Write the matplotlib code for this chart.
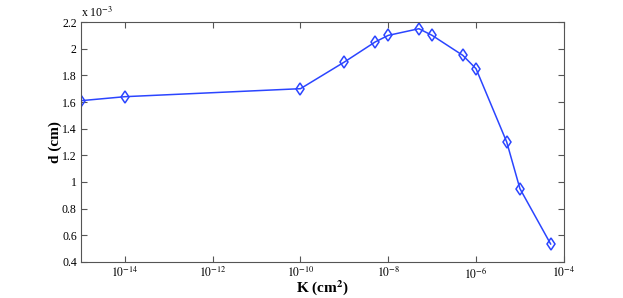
import math

import matplotlib
matplotlib.use("Agg")
import matplotlib.pyplot as plt
from matplotlib.ticker import FixedLocator, NullLocator, FuncFormatter

plt.rcParams["font.family"] = ["Liberation Serif", "DejaVu Serif"]
plt.rcParams["mathtext.fontset"] = "stix"

# permeability K (cm^2) and thickness d (x 1e-3 cm)
K = [1e-15, 1e-14, 1e-10, 1e-9, 5e-9, 1e-8, 5e-8, 1e-7, 5e-7, 1e-6, 5e-6, 1e-5, 5e-5]
d = [1.61, 1.64, 1.70, 1.90, 2.05, 2.10, 2.15, 2.10, 1.95, 1.85, 1.30, 0.95, 0.535]
x_ticks = [1e-14, 1e-12, 1e-10, 1e-8, 1e-6, 1e-4]
y_ticks = [0.4, 0.6, 0.8, 1.0, 1.2, 1.4, 1.6, 1.8, 2.0, 2.2]

fig = plt.figure(figsize=(6.23, 2.98), dpi=100)
ax = fig.add_axes([0.130, 0.121, 0.775, 0.805])

ax.plot(K, d, color="#2b45ff", lw=1.1, marker="d", mfc="none", mec="#2b45ff",
        ms=6, mew=1.1)

ax.set_xscale("log")
ax.set_xlim(1e-15, 1e-4)
ax.set_ylim(0.4, 2.2)
ax.xaxis.set_major_locator(FixedLocator(x_ticks))
ax.xaxis.set_minor_locator(NullLocator())
ax.xaxis.set_major_formatter(FuncFormatter(lambda v, p: r"$10^{%d}$" % round(math.log10(v))))
ax.yaxis.set_major_locator(FixedLocator(y_ticks))
ax.yaxis.set_major_formatter(FuncFormatter(lambda v, p: "%g" % v))

ax.tick_params(direction="in", top=True, right=True, length=4, width=0.8,
               color="#555555", labelsize=8.5, pad=3)
for s in ax.spines.values():
    s.set_color("#555555")
    s.set_linewidth(0.8)

ax.text(0.0, 1.01, r"x 10$^{-3}$", transform=ax.transAxes, fontsize=8.5,
        ha="left", va="bottom")
ax.set_xlabel(r"K (cm$^\mathbf{2}$)", fontsize=11, fontweight="bold", labelpad=-2)
ax.set_ylabel("d (cm)", fontsize=11, fontweight="bold", labelpad=0)

fig.savefig("out.png", dpi=100)
